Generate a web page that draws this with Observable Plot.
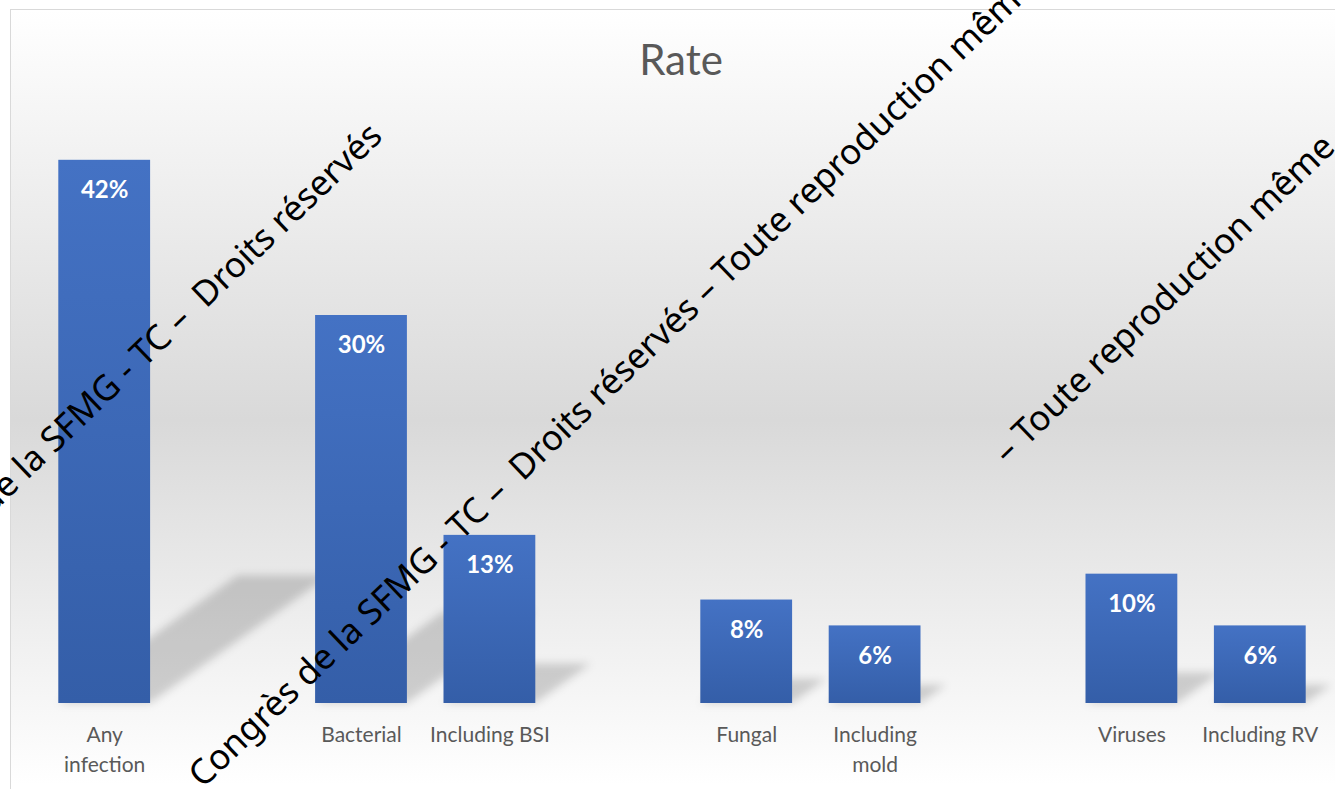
<!DOCTYPE html>
<html><head><meta charset="utf-8">
<script src="https://cdn.jsdelivr.net/npm/d3@7"></script>
<script src="https://cdn.jsdelivr.net/npm/@observablehq/plot@0.6"></script>
<style>
html,body{margin:0;padding:0;background:#fff;}
#wrap{position:relative;width:1335px;height:789px;overflow:hidden;}
#frame{position:absolute;left:10px;top:9px;width:1400px;height:900px;border-left:1px solid #d9d9d9;border-top:1px solid #d9d9d9;
  background:linear-gradient(to bottom,#ffffff 0px,#d9d9d9 410px,#ffffff 775px);}
#title{position:absolute;left:0;width:1362px;top:38px;text-align:center;font:42px Lato;line-height:42px;color:#595959;}
#chart{position:absolute;left:0;top:0;}
#wm{position:absolute;left:0;top:0;pointer-events:none;}
</style></head>
<body>
<div id="wrap">
  <div id="frame"></div>
  <div id="title">Rate</div>
  <div id="chart"></div>
  <svg id="wm" width="1335" height="789"></svg>
</div>
<script>
// ---- data ----
const categories = ["Any infection","gap1","Bacterial","Including BSI","gap2","Fungal","Including mold","gap3","Viruses","Including RV"];
const tickLabels = ["Any\ninfection","","Bacterial","Including BSI","","Fungal","Including\nmold","","Viruses","Including RV"];
const barCategories = ["Any infection","Bacterial","Including BSI","Fungal","Including mold","Viruses","Including RV"];
const rates = [42,30,13,8,6,10,6];
const watermark = "Congrès de la SFMG - TC –  Droits réservés";
const watermarkLong = "Congrès de la SFMG - TC –  Droits réservés – Toute reproduction même interdite";
const watermarkTail = "– Toute reproduction même";

const data = barCategories.map((c,i)=>({category:c, rate:rates[i]}));

const chart = Plot.plot({
  width:1335, height:789,
  marginLeft:40, marginRight:11, marginTop:121, marginBottom:86,
  style:{background:"transparent", fontFamily:"Lato", overflow:"visible"},
  x:{domain:categories, paddingInner:0.285, paddingOuter:0.1425, round:false, axis:null},
  y:{domain:[0,45], axis:null},
  marks:[
    Plot.barY(data,{x:"category", y:"rate", fill:"url(#barGrad)"}),
    Plot.text(data,{x:"category", y:"rate", text:d=>d.rate+"%", dy:30, fill:"white", fontWeight:"bold", fontSize:24}),
    Plot.axisX({tickSize:0, tickPadding:18, fontSize:21, lineHeight:1.4, label:null,
      tickFormat:d=>tickLabels[categories.indexOf(d)], color:"#595959"})
  ]
});
document.getElementById("chart").appendChild(chart);

const svg = d3.select(chart);
const defs = svg.insert("defs",":first-child");
const g = defs.append("linearGradient").attr("id","barGrad").attr("x1",0).attr("y1",0).attr("x2",0).attr("y2",1);
g.append("stop").attr("offset","0%").attr("stop-color","#4472c4");
g.append("stop").attr("offset","100%").attr("stop-color","#345ea8");
const f = defs.append("filter").attr("id","shBlur").attr("x","-50%").attr("y","-50%").attr("width","200%").attr("height","200%");
f.append("feGaussianBlur").attr("stdDeviation",4);

// perspective shadows computed from the plot's scales
const xs = chart.scale("x"), ys = chart.scale("y");
const bw = xs.bandwidth;
const sh = svg.insert("g", "g[aria-label='bar']").attr("filter","url(#shBlur)");
data.forEach(d=>{
  const x0 = xs.apply(d.category), x1 = x0 + bw;
  const yb = ys.apply(0), h = yb - ys.apply(d.rate);
  const pts = [[x0,yb],[x1,yb],[x1+0.33*h,yb-0.235*h],[x0+0.33*h,yb-0.235*h]];
  sh.append("polygon").attr("points",pts.map(p=>p.join(",")).join(" ")).attr("fill","#000").attr("fill-opacity",0.17);
});

// watermark overlay
const wm = d3.select("#wm");
const angle = -43.8;
function wmLine(text, anchorStr, ax, ay){
  const gg = wm.append("g").attr("transform",`translate(${ax},${ay}) rotate(${angle})`);
  const t = gg.append("text").attr("font-family","Noto Sans").attr("font-size",35).attr("fill","#000")
    .style("white-space","pre").text(text);
  const idx = text.indexOf(anchorStr);
  const off = idx > 0 ? t.node().getSubStringLength(0, idx) : 0;
  t.attr("x", -off);
}
wmLine(watermark, "Droits", 206, 309);
wmLine(watermarkLong, "Droits", 523, 482);
wmLine(watermarkTail, "même", 1261, 222);
</script>
</body></html>
